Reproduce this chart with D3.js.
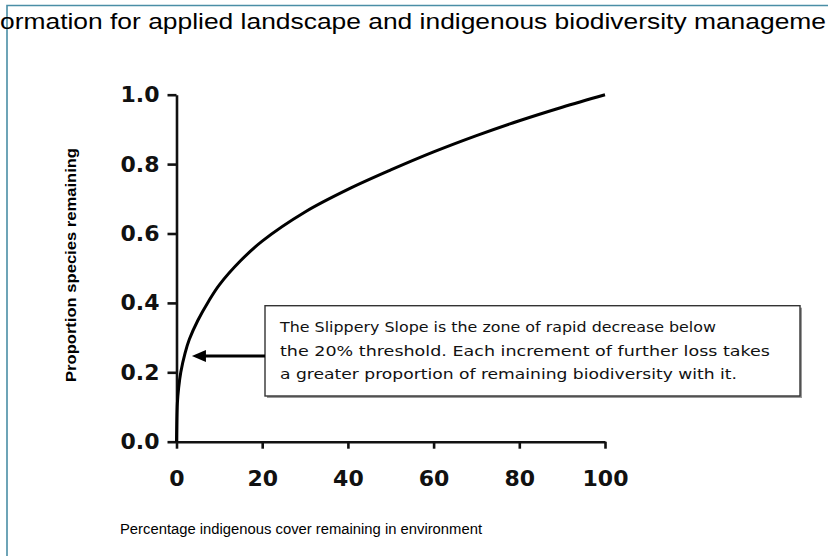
<!doctype html>
<html>
<head>
  <meta charset="UTF-8" />
  <title>Slippery slope</title>
  <style>
    html, body {
      margin: 0;
      padding: 0;
      background: #fff;
      overflow: hidden;
    }
    svg {
      display: block;
      font-family: "Liberation Sans", Arial, sans-serif;
    }
    .axis path, .axis line {
      stroke: #111;
      stroke-width: 2.6px;
    }
    .axis text {
      font-family: "DejaVu Sans", Verdana, sans-serif;
      font-size: 22px;
      font-weight: bold;
      fill: #111;
    }
    .note text {
      font-family: "DejaVu Sans", Verdana, sans-serif;
      font-size: 14px;
      fill: #111;
    }
  </style>
</head>
<body>
  <script src="https://cdn.jsdelivr.net/npm/d3@7"></script>
  <script>
    // data
    const coverPct = [0, 0.2, 0.5, 1, 2, 3, 5, 7.5, 10, 15, 20, 30, 40, 50, 60, 70, 80, 90, 100];
    const speciesProp = [0, 0.11, 0.155, 0.20, 0.255, 0.295, 0.35, 0.405, 0.452, 0.522, 0.578, 0.662, 0.727, 0.783, 0.835, 0.882, 0.925, 0.964, 1.0];
    const xTicks = [0, 20, 40, 60, 80, 100];
    const yTicks = [0, 0.2, 0.4, 0.6, 0.8, 1.0];
    const noteLines = [
      'The Slippery Slope is the zone of rapid decrease below',
      'the 20% threshold.  Each increment of further loss takes',
      'a greater proportion of remaining biodiversity with it.'
    ];
    const noteWidths = [436, 490, 457];
    const arrowTarget = { x: 3.6, y: 0.247 };
    const headerText = 'ormation for applied landscape and indigenous biodiversity manageme';
    const xTitle = 'Percentage indigenous cover remaining in environment';
    const yTitle = 'Proportion species remaining';

    const width = 828, height = 556;

    const svg = d3.select('body').append('svg')
      .attr('width', width)
      .attr('height', height);

    // page frame + clipped header line
    svg.append('path')
      .attr('d', `M7,${height} V5.5 H${width}`)
      .attr('fill', 'none')
      .attr('stroke', '#4a8ea6')
      .attr('stroke-width', 1.6);

    svg.append('text')
      .attr('x', 0)
      .attr('y', 28.5)
      .attr('font-size', 21.5)
      .attr('textLength', 826)
      .attr('lengthAdjust', 'spacingAndGlyphs')
      .attr('fill', '#000')
      .text(headerText);

    const x = d3.scaleLinear().domain([0, 100]).range([176.5, 605]);
    const y = d3.scaleLinear().domain([0, 1]).range([441.7, 94.7]);

    // axes
    svg.append('g')
      .attr('class', 'axis')
      .attr('transform', `translate(0,${y(0)})`)
      .call(d3.axisBottom(x).tickValues(xTicks).tickSize(7).tickSizeOuter(0).tickPadding(22));

    svg.append('g')
      .attr('class', 'axis')
      .attr('transform', `translate(${x(0)},0)`)
      .call(d3.axisLeft(y).tickValues(yTicks).tickSize(9).tickSizeOuter(0).tickPadding(8)
        .tickFormat(d3.format('.1f')));

    // curve
    const line = d3.line()
      .x((d, i) => x(coverPct[i]))
      .y(d => y(d))
      .curve(d3.curveCatmullRom.alpha(0.5));

    svg.append('path')
      .datum(speciesProp)
      .attr('d', line)
      .attr('fill', 'none')
      .attr('stroke', '#000')
      .attr('stroke-width', 3);

    // axis titles
    svg.append('text')
      .attr('x', 301)
      .attr('y', 534)
      .attr('text-anchor', 'middle')
      .attr('font-size', 14)
      .attr('textLength', 362)
      .attr('lengthAdjust', 'spacingAndGlyphs')
      .text(xTitle);

    svg.append('text')
      .attr('transform', 'translate(76,265) rotate(-90)')
      .attr('text-anchor', 'middle')
      .attr('font-size', 15.5)
      .attr('font-weight', 'bold')
      .attr('textLength', 234)
      .attr('lengthAdjust', 'spacingAndGlyphs')
      .text(yTitle);

    // annotation box with arrow
    const note = svg.append('g').attr('class', 'note');
    const box = { left: 265, top: 305.7, w: 535, h: 90.3 };

    note.append('rect')
      .attr('x', box.left + 2).attr('y', box.top + 2)
      .attr('width', box.w).attr('height', box.h)
      .attr('fill', '#999');
    note.append('rect')
      .attr('x', box.left).attr('y', box.top)
      .attr('width', box.w).attr('height', box.h)
      .attr('fill', '#fff')
      .attr('stroke', '#333')
      .attr('stroke-width', 1.4);

    note.selectAll('text.line')
      .data(noteLines)
      .join('text')
      .attr('class', 'line')
      .attr('x', box.left + 15)
      .attr('y', (d, i) => box.top + 26 + i * 23.8)
      .attr('textLength', (d, i) => noteWidths[i])
      .attr('lengthAdjust', 'spacingAndGlyphs')
      .text(d => d);

    const tipX = x(arrowTarget.x), tipY = y(arrowTarget.y);
    note.append('line')
      .attr('x1', box.left).attr('y1', tipY)
      .attr('x2', tipX + 10).attr('y2', tipY)
      .attr('stroke', '#000')
      .attr('stroke-width', 3);
    note.append('path')
      .attr('d', `M${tipX},${tipY} L${tipX + 14},${tipY - 6} L${tipX + 14},${tipY + 6} Z`)
      .attr('fill', '#000');
  </script>
</body>
</html>
